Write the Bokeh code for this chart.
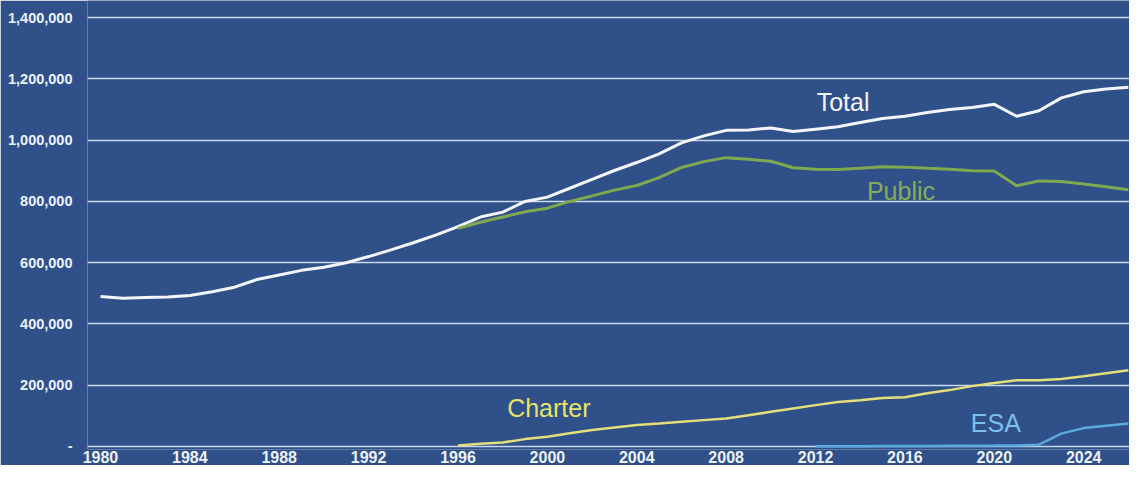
from bokeh.plotting import figure
from bokeh.models import FixedTicker, CustomJSTickFormatter, Label, Range1d
from bokeh.embed import file_html
from bokeh.resources import INLINE

years_total = list(range(1980, 2027))
total = [490000, 484000, 486000, 488000, 493000, 505000, 520000, 545000, 560000, 575000,
         585000, 600000, 620000, 642000, 665000, 690000, 718000, 749000, 765000, 800000,
         814000, 843000, 872000, 901000, 927000, 955000, 991000, 1014000, 1032000, 1033000,
         1040000, 1028000, 1036000, 1044000, 1058000, 1071000, 1078000, 1090000, 1100000, 1107000,
         1117000, 1078000, 1096000, 1138000, 1158000, 1167000, 1173000]

years_public = list(range(1996, 2027))
public = [712000, 732000, 749000, 766000, 778000, 800000, 818000, 837000, 852000, 878000,
          911000, 930000, 943000, 938000, 931000, 910000, 905000, 904000, 908000, 913000,
          912000, 908000, 905000, 900000, 899000, 851000, 867000, 865000, 857000, 848000, 838000]

years_charter = list(range(1996, 2027))
charter = [3000, 9000, 13000, 24000, 32000, 43000, 54000, 62000, 70000, 75000,
           81000, 86000, 91000, 102000, 113000, 124000, 135000, 145000, 151000, 158000,
           161000, 174000, 184000, 197000, 207000, 216000, 216000, 220000, 229000, 239000, 249000]

years_esa = list(range(2012, 2027))
esa = [500, 800, 1000, 1300, 1600, 1900, 2200, 2500, 2800, 3200, 6000, 42000, 60000, 68000, 75000]

x_ticks = [1980, 1984, 1988, 1992, 1996, 2000, 2004, 2008, 2012, 2016, 2020, 2024]
y_ticks = [0, 200000, 400000, 600000, 800000, 1000000, 1200000, 1400000]

BG = "#2f5088"

p = figure(width=1129, height=465, output_backend="svg", toolbar_location=None,
           x_range=Range1d(1979.42, 2026.05), y_range=Range1d(-9900, 1456000),
           min_border_left=87, min_border_right=0, min_border_top=0, min_border_bottom=0)
p.background_fill_color = BG
p.border_fill_color = BG
p.outline_line_color = None

p.xgrid.grid_line_color = None
p.ygrid.grid_line_color = "#c9d6f0"
p.ygrid.grid_line_width = 1.5
p.ygrid.ticker = FixedTicker(ticks=y_ticks)

p.xaxis.ticker = FixedTicker(ticks=x_ticks)
p.yaxis.ticker = FixedTicker(ticks=y_ticks)
p.yaxis.formatter = CustomJSTickFormatter(code="""
    return tick == 0 ? "-" : tick.toLocaleString("en-US");
""")
for ax in (p.xaxis, p.yaxis):
    ax.axis_line_color = None
    ax.major_tick_line_color = None
    ax.minor_tick_line_color = None
    ax.major_tick_out = 0
    ax.major_tick_in = 0
    ax.minor_tick_out = 0
    ax.major_label_text_color = "#eef2fa"
    ax.major_label_text_font = "Liberation Sans"
    ax.major_label_text_font_style = "bold"
p.xaxis.major_label_text_font_size = "16px"
p.yaxis.major_label_text_font_size = "14.5px"
p.yaxis.major_label_standoff = 15
p.xaxis.major_label_standoff = 1

p.line(years_total, total, line_color="#f4f5fb", line_width=3)
p.line(years_public, public, line_color="#7fa84f", line_width=3)
p.line(years_charter, charter, line_color="#e4df7a", line_width=2.5)
p.line(years_esa, esa, line_color="#5aaadf", line_width=2.5)

def lab(x, y, text, color):
    p.add_layout(Label(x=x, y=y, text=text, text_color=color, text_font="Liberation Sans",
                       text_font_size="25px", text_align="left", text_baseline="alphabetic"))

lab(2012.05, 1124000, "Total", "#f4f5fb")
lab(2014.3, 834000, "Public", "#86ad55")
lab(1998.2, 127000, "Charter", "#e8e36a")
lab(2018.95, 75000, "ESA", "#7cc0ec")

open("out.html", "w").write(file_html(p, INLINE))
